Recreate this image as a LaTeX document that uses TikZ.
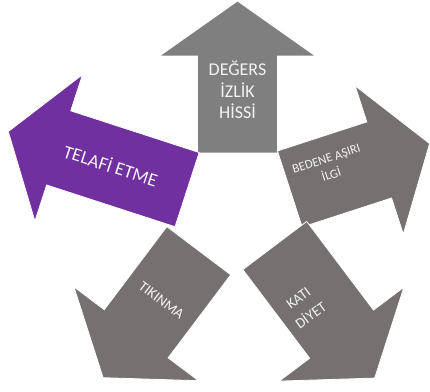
\documentclass[tikz,border=0pt]{standalone}
\usepackage{fontspec}
\setmainfont{Carlito}
\usepackage{tikz}
\usetikzlibrary{calc}
\definecolor{midgrey}{HTML}{7F7F7F}
\definecolor{warmgrey}{HTML}{767171}
\definecolor{accentpurple}{HTML}{7030A0}
\definecolor{paletext}{HTML}{F2F2F2}

\begin{document}
\begin{tikzpicture}[x=0.75pt,y=0.75pt,
    arrowshape/.style={draw=white, line width=0.6pt, line join=miter},
    arrowtext/.style={text=paletext, align=center, inner sep=0pt}
]

\useasboundingbox (0,0) rectangle (430,392);
\coordinate (centre) at (237.5,186);

% Top arrow
\begin{scope}[shift={(centre)},rotate=90]
  \filldraw[arrowshape, fill=midgrey] (53,-40) -- (150,-40) -- (150,-78) -- (205,0) -- (150,78) -- (150,40) -- (53,40) -- cycle;
  \node[arrowtext, font=\fontsize{13.5}{16}\selectfont] (worth) at (116,0) {DEĞERS\\İZLİK\\HİSSİ};
\end{scope}

% Right arrow
\begin{scope}[shift={(centre)},rotate=18]
  \filldraw[arrowshape, fill=warmgrey] (55,-40) -- (149,-40) -- (149,-78) -- (202,0) -- (149,78) -- (149,40) -- (55,40) -- cycle;
  \node[arrowtext, font=\fontsize{9.5}{12.5}\selectfont, rotate=18] (bodyfocus) at (99,9) {BEDENE AŞIRI\\İLGİ};
\end{scope}

% Lower right arrow
\begin{scope}[shift={(centre)},rotate=-53,yshift=4.5pt]
  \filldraw[arrowshape, fill=warmgrey] (54,-40) -- (165,-40) -- (165,-78) -- (220,0) -- (165,78) -- (165,40) -- (54,40) -- cycle;
  \node[arrowtext, font=\fontsize{11}{16}\selectfont, rotate=36] (strictdiet) at (121,-13) {KATI\\DİYET};
\end{scope}

% Lower left arrow
\begin{scope}[shift={(centre)},rotate=-127,yshift=-3pt]
  \filldraw[arrowshape, fill=warmgrey] (59,-40) -- (163,-40) -- (163,-78) -- (218,0) -- (163,78) -- (163,40) -- (59,40) -- cycle;
  \node[arrowtext, font=\fontsize{11}{14}\selectfont, rotate=-37] (binge) at (121,0) {TIKINMA};
\end{scope}

% Highlighted arrow
\begin{scope}[shift={(centre)},rotate=162]
  \filldraw[arrowshape, fill=accentpurple] (53,-39) -- (188,-39) -- (188,-77) -- (241,0) -- (188,77) -- (188,39) -- (53,39) -- cycle;
  \node[arrowtext, font=\fontsize{14}{16}\selectfont, rotate=-18] (compensate) at (133,0) {TELAFİ ETME};
\end{scope}

\end{tikzpicture}
\end{document}
